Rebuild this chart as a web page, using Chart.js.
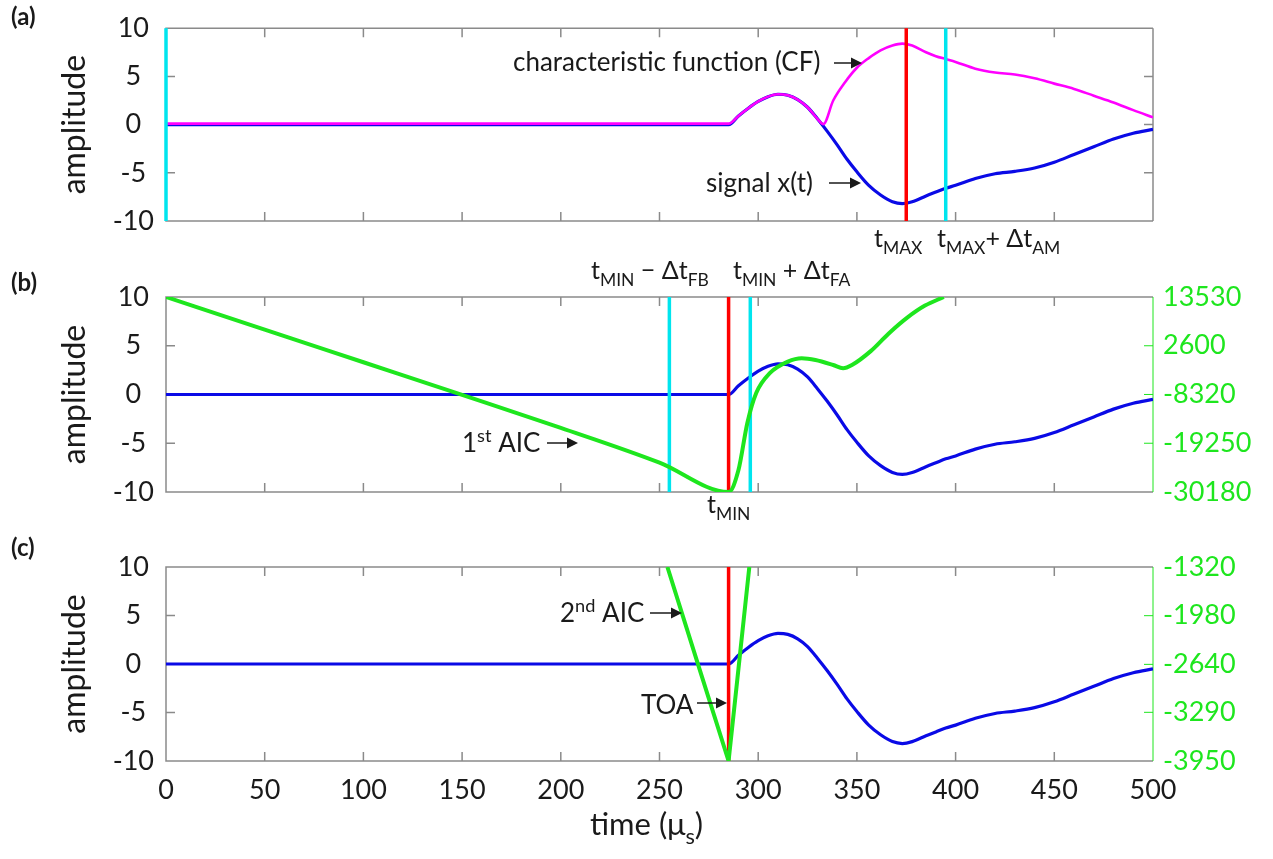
<!DOCTYPE html>
<html>
<head>
<meta charset="utf-8">
<script src="https://cdn.jsdelivr.net/npm/chart.js@4.4.1/dist/chart.umd.min.js"></script>
<style>
  body { margin: 0; background: #fff; width: 1273px; height: 859px; overflow: hidden; position: relative; }
  canvas { position: absolute; left: 0; }
</style>
</head>
<body>
<canvas id="chartA" width="1273" height="268" style="top:0px"></canvas>
<canvas id="chartB" width="1273" height="275" style="top:250px"></canvas>
<canvas id="chartC" width="1273" height="339" style="top:520px"></canvas>
<script>
// axis ticks
const timeTicks = [0, 50, 100, 150, 200, 250, 300, 350, 400, 450, 500];
const ampTicks = [-10, -5, 0, 5, 10];
const aic1Ticks = [-30180, -19250, -8320, 2600, 13530];
const aic2Ticks = [-3950, -3290, -2640, -1980, -1320];

// signal x(t), same in all three panels
const signalTime = [0, 285, 290, 295, 300, 305, 310, 315, 320, 325, 330, 335, 340, 345, 350, 356, 362, 368, 373, 378, 385, 390, 395, 400, 410, 420, 430, 440, 450, 460, 470, 480, 490, 500];
const signalAmp  = [0, 0, 0.9, 1.7, 2.4, 2.9, 3.15, 3.05, 2.6, 1.8, 0.6, -0.7, -2.1, -3.6, -4.9, -6.3, -7.3, -8.0, -8.2, -8.0, -7.4, -7.0, -6.6, -6.3, -5.6, -5.1, -4.85, -4.5, -3.9, -3.1, -2.3, -1.5, -0.9, -0.5];

// characteristic function (CF)
const cfTime = [0, 285, 290, 295, 300, 305, 310, 315, 320, 325, 330, 333, 338, 344, 350, 356, 362, 368, 373, 378, 385, 390, 395, 400, 410, 420, 430, 440, 450, 460, 470, 480, 490, 500];
const cfAmp  = [0.1, 0.1, 0.9, 1.7, 2.4, 2.9, 3.15, 3.05, 2.6, 1.8, 0.6, 0.05, 2.5, 4.4, 5.9, 6.9, 7.7, 8.2, 8.4, 8.2, 7.5, 7.1, 6.8, 6.5, 5.8, 5.4, 5.2, 4.8, 4.25, 3.7, 3.0, 2.3, 1.5, 0.75];

// 1st AIC (right axis of b)
const aic1Time = [0, 50, 100, 150, 200, 250, 285, 290, 294.5, 299, 306, 315, 322, 329, 338, 343, 347.5, 357, 366, 375.5, 384.5, 394];
const aic1Val  = [13530, 6200, -1100, -8400, -15800, -23600, -30180, -25250, -14700, -8000, -3500, -970, -210, -590, -1710, -2450, -1710, 1400, 5300, 8900, 11600, 13530];

// 2nd AIC (right axis of c)
const aic2Time = [254, 270, 285, 290, 295.5];
const aic2Val  = [-1320, -2680, -3950, -2700, -1320];

// picked times
const tMax = 375, tMaxPlusAM = 395, tStart = 0;
const tMin = 285, tMinMinusFB = 255, tMinPlusFA = 296;
const toa = 285;

const BLUE = '#0a0ae6', MAGENTA = '#ff00ff', GREEN = '#1ee61e', RED = '#ff0000', CYAN = '#00e5ee';
const FONT = 'Lato, "Open Sans", sans-serif';
const TEXT = '#1a1a1a';

const zip = (xs, ys) => xs.map((x, i) => ({ x, y: ys[i] }));
const vline = (t, color, order) => ({
    data: [{ x: t, y: -10 }, { x: t, y: 10 }],
    borderColor: color, borderWidth: 3.5, yAxisID: 'y', order, clip: false
});

// frame + inward tick marks
const framePlugin = {
    id: 'frame',
    beforeDatasetsDraw(chart) {
        const { ctx, chartArea: { left, right, top, bottom }, scales } = chart;
        ctx.save();
        ctx.lineWidth = 1.5;
        ctx.strokeStyle = '#8a8a8a';
        ctx.beginPath();
        ctx.moveTo(right, top); ctx.lineTo(left, top); ctx.lineTo(left, bottom); ctx.lineTo(right, bottom);
        timeTicks.slice(1, -1).forEach(v => {
            const x = scales.x.getPixelForValue(v);
            ctx.moveTo(x, bottom); ctx.lineTo(x, bottom - 9);
            ctx.moveTo(x, top); ctx.lineTo(x, top + 9);
        });
        ampTicks.slice(1, -1).forEach(v => {
            const y = scales.y.getPixelForValue(v);
            ctx.moveTo(left, y); ctx.lineTo(left + 9, y);
        });
        if (!scales.y2) {
            ctx.moveTo(right, top); ctx.lineTo(right, bottom);
            ampTicks.slice(1, -1).forEach(v => {
                const y = scales.y.getPixelForValue(v);
                ctx.moveTo(right, y); ctx.lineTo(right - 9, y);
            });
        }
        ctx.stroke();
        if (scales.y2) {
            ctx.strokeStyle = GREEN;
            ctx.lineWidth = 1;
            ctx.beginPath();
            ctx.moveTo(right, top); ctx.lineTo(right, bottom);
            scales.y2.ticks.slice(1, -1).forEach(tk => {
                const y = scales.y2.getPixelForValue(tk.value);
                ctx.moveTo(right, y); ctx.lineTo(right - 9, y);
            });
            ctx.stroke();
        }
        ctx.restore();
    }
};

// text with sub/superscripts: parts = [[text, 'sub'|'sup'|null], ...]
function drawRich(ctx, x, y, parts, size, weight) {
    let cx = x;
    parts.forEach(([txt, kind]) => {
        const s = kind ? size * 0.7 : size;
        ctx.font = `${weight || 'normal'} ${s}px ${FONT}`;
        const dy = kind === 'sub' ? size * 0.28 : kind === 'sup' ? -size * 0.38 : 0;
        ctx.fillText(txt, cx, y + dy);
        cx += ctx.measureText(txt).width;
    });
}

function arrow(ctx, x1, x2, y) {
    ctx.beginPath();
    ctx.moveTo(x1, y); ctx.lineTo(x2 - 8, y);
    ctx.lineWidth = 1.5; ctx.strokeStyle = TEXT; ctx.stroke();
    ctx.beginPath();
    ctx.moveTo(x2, y); ctx.lineTo(x2 - 11, y - 5.5); ctx.lineTo(x2 - 11, y + 5.5); ctx.closePath();
    ctx.fillStyle = TEXT; ctx.fill();
}

const notePlugin = {
    id: 'notes',
    afterDraw(chart, args, opts) {
        const ctx = chart.ctx;
        ctx.save();
        ctx.textBaseline = 'alphabetic';
        ctx.textAlign = 'left';
        (opts.texts || []).forEach(n => { ctx.fillStyle = TEXT; drawRich(ctx, n.x, n.y, n.parts, n.size || 25, n.weight); });
        (opts.arrows || []).forEach(a => arrow(ctx, a[0], a[1], a[2]));
        ctx.restore();
    }
};

function baseOptions(padTop, padBottom, padRight, xHeight, showX, rightTicks, rightRange) {
    const scales = {
        x: {
            type: 'linear', min: 0, max: 500,
            afterBuildTicks: s => { s.ticks = timeTicks.map(v => ({ value: v })); },
            afterFit: s => { s.height = xHeight; },
            grid: { display: false, drawTicks: false }, border: { display: false },
            ticks: { display: showX, padding: 13, color: TEXT, font: { family: FONT, size: 27 } }
        },
        y: {
            type: 'linear', min: -10, max: 10, position: 'left',
            afterBuildTicks: s => { s.ticks = ampTicks.map(v => ({ value: v })); },
            afterFit: s => { s.width = 166; },
            grid: { display: false, drawTicks: false }, border: { display: false },
            ticks: { padding: 12, crossAlign: 'center', color: TEXT, font: { family: FONT, size: 27 } },
            title: { display: true, text: 'amplitude', color: TEXT, font: { family: FONT, size: 32 }, padding: { top: 55, bottom: 0 } }
        }
    };
    if (rightTicks) {
        scales.y2 = {
            type: 'linear', min: rightRange[0], max: rightRange[1], position: 'right',
            afterBuildTicks: s => { s.ticks = rightTicks.map(v => ({ value: v })); },
            afterFit: s => { s.width = 120; },
            grid: { display: false, drawTicks: false }, border: { display: false },
            ticks: { padding: 10, color: GREEN, font: { family: FONT, size: 27 }, callback: v => String(v) }
        };
    }
    return {
        responsive: false, animation: false,
        layout: { padding: { top: padTop, bottom: padBottom, left: 0, right: padRight } },
        elements: { point: { radius: 0 }, line: { borderCapStyle: 'butt', borderJoinStyle: 'round' } },
        scales,
        plugins: { legend: { display: false }, tooltip: { enabled: false } }
    };
}

const signalSet = order => ({
    data: zip(signalTime, signalAmp), borderColor: BLUE, borderWidth: 3.2,
    cubicInterpolationMode: 'monotone', yAxisID: 'y', order
});

// (a) signal and CF
const optA = baseOptions(27, 47, 120, 0, false, null, null);
optA.plugins.notes = {
    texts: [
        { x: 11, y: 25, parts: [['(a)']], size: 24, weight: 'bold' },
        { x: 513, y: 71, parts: [['characteristic function (CF)']], size: 26 },
        { x: 706, y: 192, parts: [['signal x(t)']], size: 26 },
        { x: 874, y: 247, parts: [['t'], ['MAX', 'sub']] },
        { x: 937, y: 247, parts: [['t'], ['MAX', 'sub'], ['+ Δt'], ['AM', 'sub']] }
    ],
    arrows: [[834, 862, 63], [829, 861, 183]]
};
new Chart(document.getElementById('chartA'), {
    type: 'line',
    data: {
        datasets: [
            signalSet(3),
            { data: zip(cfTime, cfAmp), borderColor: MAGENTA, borderWidth: 2.6, cubicInterpolationMode: 'monotone', yAxisID: 'y', order: 2 },
            vline(tStart, CYAN, 1),
            vline(tMax, RED, 0),
            vline(tMaxPlusAM, CYAN, 0)
        ]
    },
    options: optA,
    plugins: [framePlugin, notePlugin]
});

// (b) signal and 1st AIC
const optB = baseOptions(47, 33, 0, 0, false, aic1Ticks, [-30180, 13530]);
optB.plugins.notes = {
    texts: [
        { x: 11, y: 41, parts: [['(b)']], size: 24, weight: 'bold' },
        { x: 591, y: 29, parts: [['t'], ['MIN', 'sub'], [' − Δt'], ['FB', 'sub']] },
        { x: 733, y: 29, parts: [['t'], ['MIN', 'sub'], [' + Δt'], ['FA', 'sub']] },
        { x: 462, y: 202, parts: [['1'], ['st', 'sup'], [' AIC']], size: 26 },
        { x: 707, y: 263, parts: [['t'], ['MIN', 'sub']] }
    ],
    arrows: [[547, 578, 193]]
};
new Chart(document.getElementById('chartB'), {
    type: 'line',
    data: {
        datasets: [
            signalSet(3),
            vline(tMinMinusFB, CYAN, 2),
            vline(tMinPlusFA, CYAN, 2),
            vline(tMin, RED, 1),
            { data: zip(aic1Time, aic1Val), borderColor: GREEN, borderWidth: 4, cubicInterpolationMode: 'monotone', yAxisID: 'y2', order: 0 }
        ]
    },
    options: optB,
    plugins: [framePlugin, notePlugin]
});

// (c) signal and 2nd AIC
const optC = baseOptions(47, 0, 0, 98, true, aic2Ticks, [-3950, -1320]);
optC.plugins.notes = {
    texts: [
        { x: 11, y: 36, parts: [['(c)']], size: 24, weight: 'bold' },
        { x: 560, y: 102, parts: [['2'], ['nd', 'sup'], [' AIC']], size: 26 },
        { x: 641, y: 194, parts: [['TOA']], size: 26 },
        { x: 590, y: 315, parts: [['time (μ'], ['s', 'sub'], [')']], size: 31 }
    ],
    arrows: [[650, 682, 93], [697, 727, 183]]
};
new Chart(document.getElementById('chartC'), {
    type: 'line',
    data: {
        datasets: [
            signalSet(3),
            vline(toa, RED, 1),
            { data: zip(aic2Time, aic2Val), borderColor: GREEN, borderWidth: 4, tension: 0, yAxisID: 'y2', order: 0 }
        ]
    },
    options: optC,
    plugins: [framePlugin, notePlugin]
});
</script>
</body>
</html>
